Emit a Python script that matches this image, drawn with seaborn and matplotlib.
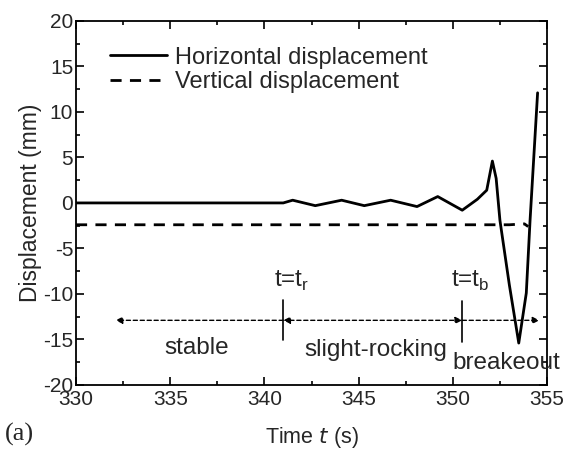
import numpy as np
import pandas as pd
import matplotlib
matplotlib.use("Agg")
import matplotlib.pyplot as plt
import seaborn as sns
from matplotlib.ticker import MultipleLocator

# Horizontal displacement (mm) vs time (s)
h_time = [330, 341.0, 341.5, 342.7, 344.1, 345.3, 346.7, 348.1, 349.2, 350.5,
          351.3, 351.8, 352.1, 352.3, 352.5, 353.0, 353.5, 353.9, 354.1, 354.5]
h_disp = [0.0, 0.0, 0.3, -0.3, 0.3, -0.3, 0.3, -0.4, 0.7, -0.8,
          0.4, 1.4, 4.6, 2.7, -1.9, -9.0, -15.4, -9.9, -1.9, 12.1]

# Vertical displacement (mm) vs time (s)
v_time = [330, 353.0, 353.8, 354.0]
v_disp = [-2.4, -2.4, -2.3, -2.6]

xticks = [330, 335, 340, 345, 350, 355]
yticks = [-20, -15, -10, -5, 0, 5, 10, 15, 20]

t_r = 341.0
t_b = 350.5

sns.set_style("ticks")
plt.rcParams['font.family'] = ['Liberation Sans', 'DejaVu Sans']
plt.rcParams['axes.unicode_minus'] = False

fig = plt.figure(figsize=(5.74, 4.55), dpi=100)
ax = fig.add_axes([0.1324, 0.154, 0.8206, 0.80])

hdf = pd.DataFrame({"t": h_time, "d": h_disp})
vdf = pd.DataFrame({"t": v_time, "d": v_disp})
sns.lineplot(data=hdf, x="t", y="d", ax=ax, color="black", lw=2.0,
             label="Horizontal displacement")
sns.lineplot(data=vdf, x="t", y="d", ax=ax, color="black", lw=2.0,
             linestyle=(0, (4, 3)), label="Vertical displacement")

ax.set_xlim(330, 355)
ax.set_ylim(-20, 20)
ax.set_xticks(xticks)
ax.set_yticks(yticks)
ax.xaxis.set_minor_locator(MultipleLocator(2.5))
ax.yaxis.set_minor_locator(MultipleLocator(2.5))
ax.tick_params(which="both", direction="in", top=True, right=True, labelsize=15,
               width=1.2, color="black")
ax.tick_params(which="major", length=6)
ax.tick_params(axis="y", which="major", pad=2)
ax.tick_params(axis="x", which="major", pad=4)
ax.tick_params(which="minor", length=3)
for s in ax.spines.values():
    s.set_linewidth(1.3)
    s.set_color("black")

ax.set_xlabel("Time $\\mathit{t}$ (s)", fontsize=15.5, labelpad=11)
ax.set_ylabel("Displacement (mm)", fontsize=16.5, labelpad=1)

leg = ax.legend(loc="upper left", bbox_to_anchor=(0.052, 0.955), frameon=False,
                fontsize=17, handlelength=2.4, handletextpad=0.35,
                labelspacing=0.1, borderaxespad=0)

# Annotations
yarr = -12.9
arrowkw = dict(arrowstyle="-|>", linestyle=(0, (3, 2)), color="black", lw=1.0,
               mutation_scale=10, shrinkA=0, shrinkB=0)
ax.annotate("", xy=(332.1, yarr), xytext=(t_r, yarr), arrowprops=arrowkw)
ax.annotate("", xy=(t_r, yarr), xytext=(t_b, yarr), arrowprops=dict(arrowkw, arrowstyle="<|-|>"))
ax.annotate("", xy=(354.6, yarr), xytext=(t_b, yarr), arrowprops=arrowkw)
ax.plot([t_r, t_r], [-10.7, -15.1], color="black", lw=1.2)
ax.plot([t_b, t_b], [-10.8, -15.3], color="black", lw=1.2)

ax.text(340.5, -8.6, "t=t$_\\mathregular{r}$", fontsize=17.5, ha="left", va="center")
ax.text(349.9, -8.6, "t=t$_\\mathregular{b}$", fontsize=17.5, ha="left", va="center")
ax.text(336.4, -15.9, "stable", fontsize=17.5, ha="center", va="center")
ax.text(345.9, -16.2, "slight-rocking", fontsize=17.5, ha="center", va="center")
ax.text(350.0, -17.6, "breakeout", fontsize=17.5, ha="left", va="center", clip_on=False)

fig.text(0.008, 0.02, "(a)", fontsize=19, family="Liberation Serif", ha="left", va="bottom")

fig.savefig("out.png", dpi=100)
